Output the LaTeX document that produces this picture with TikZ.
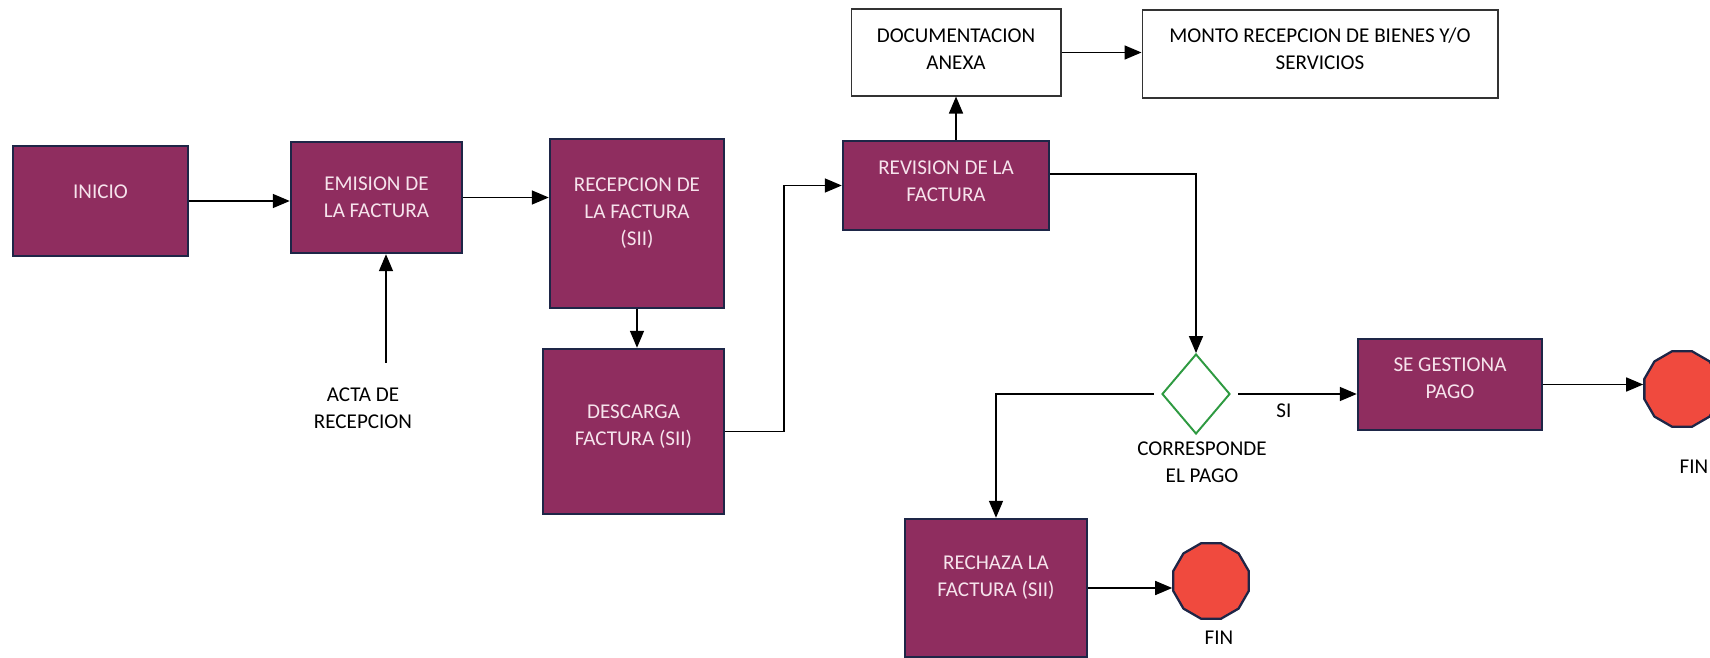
\documentclass[tikz,border=0pt]{standalone}
\usepackage{fontspec}
\setmainfont{Carlito}
\usepackage{xcolor}
\usepackage{tikz}
\usetikzlibrary{arrows.meta,positioning,shapes.geometric}
\definecolor{FMagenta}{HTML}{8F2D5F}
\definecolor{FNavy}{HTML}{1E2647}
\definecolor{FRed}{HTML}{F04A3E}
\definecolor{FGreen}{HTML}{2E9A41}
\definecolor{FText}{HTML}{F6E3EC}
% extra depth under the last line, lifts the text inside its box
\newcommand{\bajo}[1]{\rule[-#1]{0pt}{0pt}}

\begin{document}
\begin{tikzpicture}[
  x=0.02cm,y=-0.02cm,
  font=\fontsize{12}{15.5}\selectfont,
  proc/.style={draw=FNavy,line width=1.4pt,fill=FMagenta,text=FText,
    align=center,inner sep=2pt},
  nota/.style={draw=black!80,line width=0.6pt,fill=white,align=center},
  lbl/.style={align=center,inner sep=1pt},
  fin/.style={regular polygon,regular polygon sides=12,draw=FNavy,
    line width=1.3pt,fill=FRed,minimum size=1.56cm,inner sep=0pt},
  dec/.style={diamond,draw=FGreen,line width=1.1pt,fill=white,
    minimum width=1.36cm,minimum height=1.6cm,inner sep=0pt},
  a/.style={-{Triangle[length=0.34cm,width=0.28cm]},line width=0.9pt,color=black}
]
  \useasboundingbox (0,0) rectangle (1710,658);
  % process boxes
  \node[proc,minimum width=3.5cm,minimum height=2.2cm] (inicio) at (100.5,201)
    {INICIO\bajo{10.2pt}};
  \node[proc,minimum width=3.42cm,minimum height=2.22cm] (emision) at (376.5,197.5)
    {EMISION DE\\LA FACTURA};
  \node[proc,minimum width=3.48cm,minimum height=3.38cm] (recep) at (637,223.5)
    {RECEPCION DE\\LA FACTURA\\(SII)\bajo{13.2pt}};
  \node[proc,minimum width=3.62cm,minimum height=3.3cm] (desc) at (633.5,431.5)
    {DESCARGA\\FACTURA (SII)\bajo{7.5pt}};
  \node[proc,minimum width=4.12cm,minimum height=1.78cm] (revis) at (946,185.5)
    {REVISION DE LA\\FACTURA\bajo{4.6pt}};
  \node[nota,minimum width=4.2cm,minimum height=1.74cm] (docu) at (956,52.5)
    {DOCUMENTACION\\ANEXA\bajo{3.4pt}};
  \node[nota,minimum width=7.12cm,minimum height=1.76cm] (monto) at (1320,54)
    {MONTO RECEPCION DE BIENES Y/O\\SERVICIOS\bajo{5.7pt}};
  \node[dec] (decide) at (1196,394) {};
  \node[proc,minimum width=3.68cm,minimum height=1.82cm] (gest) at (1450,384.5)
    {SE GESTIONA\\PAGO\bajo{6.8pt}};
  \node[proc,minimum width=3.64cm,minimum height=2.76cm] (rech) at (996,588)
    {RECHAZA LA\\FACTURA (SII)\bajo{13.8pt}};
  \node[fin] (fin1) at (1682,389) {};
  \node[fin] (fin2) at (1211,581) {};
  % free labels
  \node[lbl] (acta) at (363,408) {ACTA DE\\RECEPCION};
  \node[lbl] (corresp) at (1202,462) {CORRESPONDE\\EL PAGO};
  \node[lbl] (finlbl1) at (1694,467) {FIN};
  \node[lbl] (finlbl2) at (1219,638) {FIN};
  \coordinate (actatop) at (386,363);
  % connectors
  \draw[a] (inicio.east) -- (inicio.east -| emision.west);
  \draw[a] (emision.east) -- (emision.east -| recep.west);
  \draw[a] (actatop) -- (actatop |- emision.south);
  \draw[a] (recep.south) -- (recep.south |- desc.north);
  \draw[a] (desc.east) -| ([xshift=-1.16cm]revis.west) -- (revis.west);
  \draw[a] (docu.south |- revis.north) -- (docu.south);
  \draw[a] (docu.east) -- (docu.east -| monto.west);
  \draw[a] ([yshift=0.23cm]revis.east) -| (decide.north);
  \draw[a,shorten <=4pt] (decide.west) -| (rech.north);
  \draw[a,shorten <=4pt] (decide.east) -- (decide.east -| gest.west)
    node[pos=0.42,below=2pt] {SI};
  \draw[a] (gest.east) -- (gest.east -| fin1.west);
  \draw[a] (rech.east) -- (rech.east -| fin2.west);
\end{tikzpicture}
\end{document}
